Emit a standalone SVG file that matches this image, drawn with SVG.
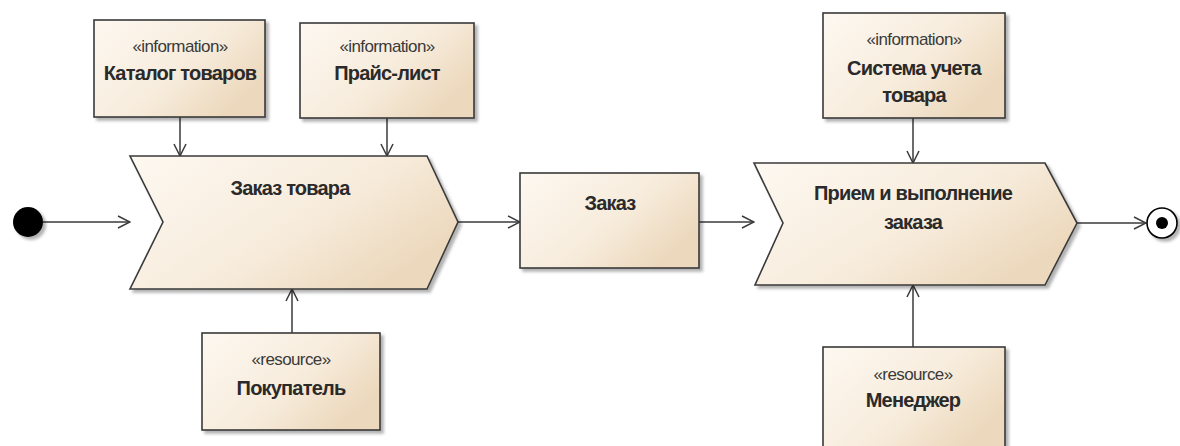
<svg xmlns="http://www.w3.org/2000/svg" width="1180" height="446" viewBox="0 0 1180 446">
<style>
.shape{fill:url(#g);stroke:#3a3a3a;stroke-width:1.6;filter:url(#sh)}
.st{font-family:"Liberation Sans",Arial,sans-serif;font-size:17px;fill:#3a3a3a;text-anchor:middle;letter-spacing:-0.6px}
.t{font-family:"Liberation Sans",Arial,sans-serif;font-size:20px;font-weight:bold;fill:#2a2a2a;text-anchor:middle;letter-spacing:-0.8px}
.c{stroke:#3a3a3a;stroke-width:1.5;fill:none;marker-end:url(#ah)}
</style>
<defs>
<linearGradient id="g" x1="0" y1="0" x2="1" y2="0.6">
<stop offset="0" stop-color="#fdf8f1"/>
<stop offset="0.6" stop-color="#f7ecdc"/>
<stop offset="1" stop-color="#ecd8bc"/>
</linearGradient>
<filter id="sh" x="-10%" y="-10%" width="130%" height="130%">
<feDropShadow dx="3" dy="3" stdDeviation="1.5" flood-color="#000" flood-opacity="0.3"/>
</filter>
<marker id="ah" markerWidth="14" markerHeight="14" refX="13" refY="7" orient="auto" markerUnits="userSpaceOnUse">
<path d="M1,1 L13,7 L1,13" fill="none" stroke="#3a3a3a" stroke-width="1.5"/>
</marker>
</defs>
<g id="connectors">
<line class="c" x1="43" y1="222" x2="130" y2="222"/>
<line class="c" x1="180" y1="117" x2="180" y2="156"/>
<line class="c" x1="387" y1="118" x2="387" y2="156"/>
<line class="c" x1="292" y1="333" x2="292" y2="289"/>
<line class="c" x1="458" y1="222" x2="520" y2="222"/>
<line class="c" x1="699" y1="222" x2="754" y2="222"/>
<line class="c" x1="913" y1="118" x2="913" y2="163"/>
<line class="c" x1="913" y1="347" x2="913" y2="285"/>
<line class="c" x1="1077" y1="223" x2="1146" y2="223"/>
</g>
<g id="start">
<circle cx="28" cy="222" r="15" fill="#000" filter="url(#sh)"/>
</g>
<g id="catalog">
<rect class="shape" x="94" y="20" width="171" height="97"/>
<text class="st" x="180" y="52">«information»</text>
<text class="t" x="180" y="80">Каталог товаров</text>
</g>
<g id="price">
<rect class="shape" x="300" y="23" width="174" height="95"/>
<text class="st" x="387" y="52">«information»</text>
<text class="t" x="387" y="80">Прайс-лист</text>
</g>
<g id="order-goods">
<path class="shape" d="M130,156 L427,156 L458,222 L427,289 L130,289 L163,222 Z"/>
<text class="t" x="290" y="195">Заказ товара</text>
</g>
<g id="buyer">
<rect class="shape" x="202" y="333" width="178" height="97"/>
<text class="st" x="291" y="365">«resource»</text>
<text class="t" x="291" y="395">Покупатель</text>
</g>
<g id="order">
<rect class="shape" x="520" y="173" width="179" height="95"/>
<text class="t" x="610" y="210">Заказ</text>
</g>
<g id="accounting">
<rect class="shape" x="823" y="13" width="182" height="105"/>
<text class="st" x="914" y="45">«information»</text>
<text class="t" x="914" y="75">Система учета</text>
<text class="t" x="914" y="102">товара</text>
</g>
<g id="process-order">
<path class="shape" d="M754,163 L1045,163 L1077,223 L1045,285 L755,285 L783,223 Z"/>
<text class="t" x="913" y="200">Прием и выполнение</text>
<text class="t" x="913" y="229">заказа</text>
</g>
<g id="manager">
<rect class="shape" x="823" y="347" width="182" height="104"/>
<text class="st" x="913" y="380">«resource»</text>
<text class="t" x="913" y="407">Менеджер</text>
</g>
<g id="end">
<circle cx="1162" cy="223" r="15" fill="#fff" stroke="#000" stroke-width="1.6" filter="url(#sh)"/>
<circle cx="1162" cy="223" r="6" fill="#000"/>
</g>
</svg>
